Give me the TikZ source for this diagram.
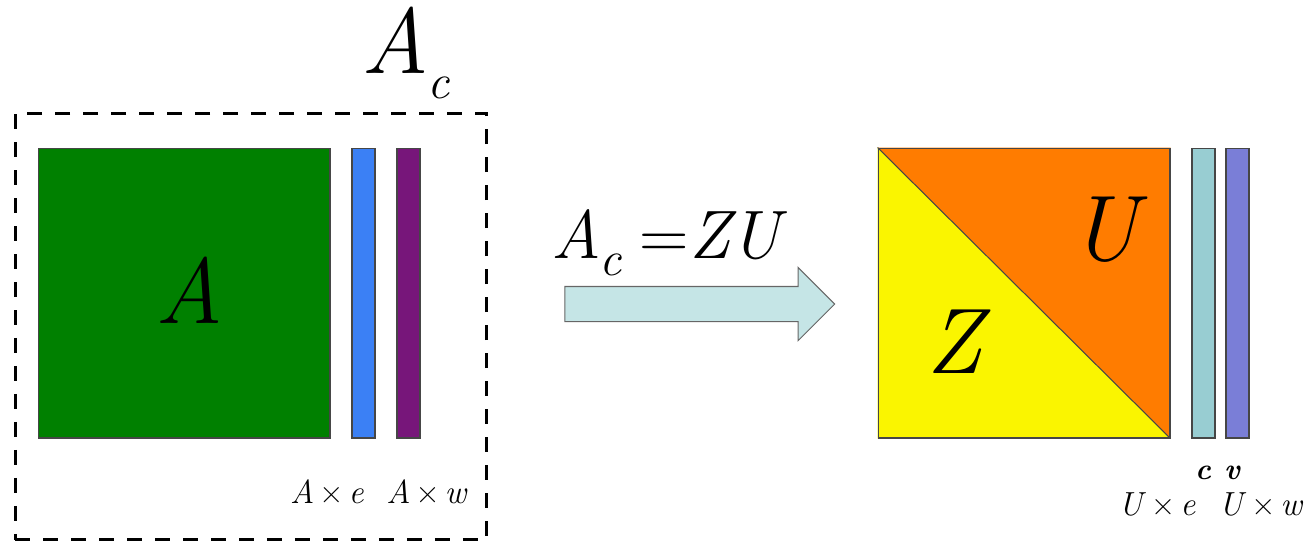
\documentclass[tikz,border=0pt]{standalone}
\usepackage{tikz}
\usetikzlibrary{shapes.arrows, arrows.meta, positioning, calc, backgrounds}
\definecolor{matgreen}{RGB}{0, 128, 0}
\definecolor{vecblue}{RGB}{59, 128, 245}
\definecolor{vecpurple}{RGB}{119, 22, 122}
\definecolor{triorange}{RGB}{255, 124, 0}
\definecolor{triyellow}{RGB}{250, 245, 0}
\definecolor{vecteal}{RGB}{152, 205, 210}
\definecolor{vecviolet}{RGB}{122, 126, 215}
\definecolor{arrowfill}{RGB}{197, 229, 230}
\definecolor{edgegray}{RGB}{70, 70, 70}
\tikzset{
    sqbox/.style={draw=edgegray, line width=0.6pt, rectangle, minimum width=5.84cm, minimum height=5.8cm, inner sep=0pt},
    barbox/.style={draw=edgegray, line width=0.6pt, rectangle, minimum width=0.46cm, minimum height=5.8cm, inner sep=0pt},
    bigletter/.style={inner sep=0pt, font=\fontsize{53}{53}\selectfont\itshape},
    smalllabel/.style={inner sep=0pt, anchor=base, font=\fontsize{19}{20}\selectfont},
    tinylabel/.style={inner sep=0pt, anchor=base, font=\fontsize{17}{17}\selectfont\bfseries\itshape},
    blockarrow/.style={single arrow, draw=gray!80!black, line width=0.6pt, fill=arrowfill, minimum height=5.4cm, minimum width=1.44cm, single arrow head extend=0.38cm, inner xsep=0pt, inner ysep=0.34cm},
}
\newcommand{\tms}{\hspace{0.1cm}×\hspace{0.1cm}}

\begin{document}
\begin{tikzpicture}[x=0.02cm, y=-0.02cm]
    \useasboundingbox (0,0) rectangle (1309,542);
    % left: augmented matrix
    \node[draw, dashed, line width=1.7pt, dash pattern=on 0.3cm off 0.26cm, minimum width=9.44cm, minimum height=8.54cm, inner sep=0pt] (acbox) at (251,326.5) {};
    \node[anchor=base west, inner sep=0pt, font=\fontsize{53}{53}\selectfont\itshape] (aclabel) at (361,73)
          {A\kern-1pt\raisebox{-0.5cm}{\fontsize{28}{28}\selectfont c}};
    \node[sqbox, fill=matgreen] (amat) at (184,293) {};
    \node[bigletter] (alab) at (189,290) {A};
    \node[barbox, fill=vecblue] (evec) at (363.5,293) {};
    \node[barbox, fill=vecpurple] (wvec) at (408.5,293) {};
    \node[smalllabel] (elab) at (327,503) {\textit{A}\tms\textit{e}};
    \node[smalllabel] (wlab) at (427,503) {\textit{A}\tms\textit{w}};

    % factorisation arrow
    \node[anchor=base west, inner sep=0pt, font=\fontsize{39}{39}\selectfont\itshape] (eqlab) at (551,258)
          {A\kern-1pt\raisebox{-0.34cm}{\fontsize{28}{28}\selectfont c}\hspace{0.36cm}\upshape=\hspace{0.02cm}\itshape ZU};
    \node[blockarrow] (facarrow) at (691,304) {};

    % right: factored matrix
    \node[sqbox] (zumat) at (1024,293) {};
    \begin{scope}[on background layer]
        \fill[triorange] (zumat.north west) -- (zumat.north east) -- (zumat.south east) -- cycle;
        \fill[triyellow] (zumat.north west) -- (zumat.south west) -- (zumat.south east) -- cycle;
    \end{scope}
    \draw[edgegray, line width=0.6pt] (zumat.north west) -- (zumat.south east);
    \node[bigletter] (ulab) at (1104,230) {U};
    \node[bigletter] (zlab) at (954,342) {Z};
    \node[barbox, fill=vecteal] (cvec) at (1203.5,293) {};
    \node[barbox, fill=vecviolet] (vvec) at (1237.5,293) {};
    \node[tinylabel] (clab) at (1203,479) {c};
    \node[tinylabel] (vlab) at (1232,479) {v};
    \node[smalllabel] (uelab) at (1157,515) {\textit{U}\tms\textit{e}};
    \node[smalllabel] (uwlab) at (1261,515) {\textit{U}\tms\textit{w}};
\end{tikzpicture}
\end{document}
